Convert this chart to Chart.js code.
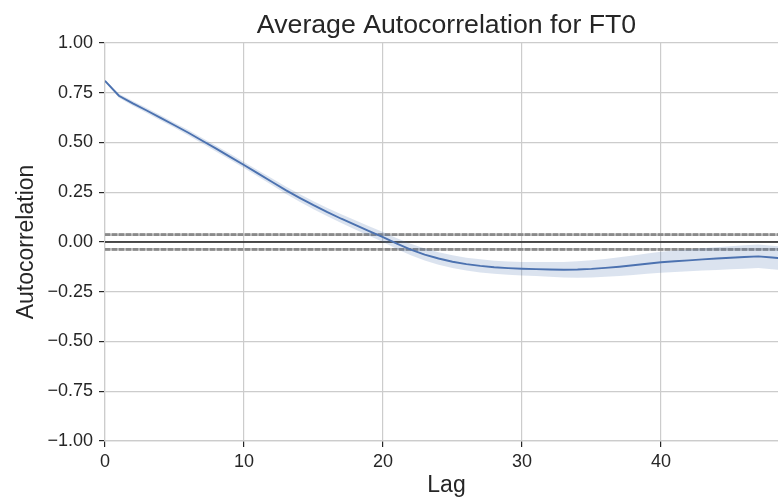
<!DOCTYPE html>
<html>
<head>
<meta charset="utf-8">
<script src="https://cdn.jsdelivr.net/npm/chart.js@4/dist/chart.umd.min.js"></script>
<style>
  body { margin: 0; background: #fff; overflow: hidden; }
  #frame { width: 778px; height: 501px; overflow: hidden; }
  /* the original axes run a little past the right edge of the picture */
  #wrap { width: 788px; height: 501px; }
</style>
</head>
<body>
<div id="frame"><div id="wrap"><canvas id="acf-chart"></canvas></div></div>
<script>
// lags 0..49, values
const lags = [0, 1, 2, 3, 4, 5, 6, 7, 8, 9, 10, 11, 12, 13, 14, 15, 16, 17, 18, 19,
    20, 21, 22, 23, 24, 25, 26, 27, 28, 29, 30, 31, 32, 33, 34, 35, 36, 37, 38, 39,
    40, 41, 42, 43, 44, 45, 46, 47, 48, 49];
const acfMean = [0.810, 0.735, 0.697, 0.661, 0.624, 0.587, 0.549, 0.509, 0.469, 0.428,
    0.387, 0.345, 0.303, 0.261, 0.222, 0.185, 0.150, 0.117, 0.086, 0.055,
    0.025, -0.008, -0.038, -0.063, -0.083, -0.099, -0.111, -0.120, -0.127, -0.131,
    -0.134, -0.136, -0.138, -0.139, -0.138, -0.135, -0.130, -0.124, -0.117, -0.109,
    -0.102, -0.097, -0.092, -0.087, -0.083, -0.079, -0.075, -0.072, -0.078, -0.084];
// shaded confidence band
const acfLower = [0.805, 0.725, 0.685, 0.649, 0.611, 0.574, 0.535, 0.495, 0.454, 0.413,
    0.372, 0.329, 0.286, 0.243, 0.203, 0.165, 0.129, 0.095, 0.063, 0.031,
    0.000, -0.035, -0.067, -0.093, -0.114, -0.131, -0.143, -0.153, -0.160, -0.164,
    -0.168, -0.171, -0.175, -0.178, -0.179, -0.178, -0.175, -0.171, -0.166, -0.160,
    -0.155, -0.151, -0.147, -0.143, -0.140, -0.137, -0.134, -0.131, -0.137, -0.143];
const acfUpper = [0.815, 0.745, 0.709, 0.673, 0.637, 0.600, 0.563, 0.523, 0.484, 0.443,
    0.402, 0.361, 0.320, 0.279, 0.241, 0.205, 0.171, 0.139, 0.109, 0.079,
    0.050, 0.019, -0.009, -0.033, -0.052, -0.067, -0.079, -0.087, -0.094, -0.098,
    -0.100, -0.101, -0.101, -0.100, -0.097, -0.092, -0.085, -0.077, -0.068, -0.058,
    -0.049, -0.043, -0.037, -0.031, -0.026, -0.021, -0.016, -0.013, -0.019, -0.025];
const confBound = 0.037;
const xTicks = [0, 10, 20, 30, 40];
const yTicks = [-1, -0.75, -0.5, -0.25, 0, 0.25, 0.5, 0.75, 1];

const textColor = "#262626";
const gridColor = "#cccccc";

function pts(ys) {
    return lags.map((x, i) => ({x: x, y: ys[i]}));
}

function hline(y) {
    return [{x: lags[0], y: y}, {x: lags[lags.length - 1], y: y}];
}

const refLine = {pointRadius: 0, fill: false, borderWidth: 2.8, order: 5};

new Chart(document.getElementById("acf-chart"), {
    type: "line",
    data: {
        datasets: [
            {data: pts(acfMean), borderColor: "#4c72b0", borderWidth: 1.9, pointRadius: 0, fill: false, order: 0},
            {data: pts(acfLower), borderWidth: 0, pointRadius: 0, fill: false, order: 1},
            {data: pts(acfUpper), borderWidth: 0, pointRadius: 0, fill: "-1",
                backgroundColor: "rgba(76,114,176,0.2)", order: 1},
            {...refLine, data: hline(confBound), borderColor: "#b8b8b8"},
            {...refLine, data: hline(-confBound), borderColor: "#b8b8b8"},
            {...refLine, data: hline(confBound), borderColor: "#8a8a8a", borderDash: [5, 2], order: 4},
            {...refLine, data: hline(-confBound), borderColor: "#8a8a8a", borderDash: [5, 2], order: 4},
            {...refLine, data: hline(0), borderColor: "#1a1a1a", borderWidth: 1.6, order: 3}
        ]
    },
    options: {
        responsive: true,
        maintainAspectRatio: false,
        animation: false,
        devicePixelRatio: 1,
        layout: {padding: 0},
        plugins: {
            legend: {display: false},
            tooltip: {enabled: false},
            title: {
                display: true,
                text: "Average Autocorrelation for FT0",
                fullSize: false,
                color: textColor,
                font: {family: "Liberation Sans", size: 26.7, weight: "normal", lineHeight: 1.2},
                padding: {top: 10, bottom: 1}
            }
        },
        scales: {
            x: {
                type: "linear",
                min: 0,
                max: 49.14,
                afterBuildTicks: (scale) => {
                    scale.ticks = xTicks.map(v => ({value: v}));
                },
                afterFit: (scale) => { scale.height = 60; },
                ticks: {
                    color: textColor,
                    font: {family: "Liberation Sans", size: 18},
                    padding: 4,
                    maxRotation: 0
                },
                grid: {color: gridColor, lineWidth: 1.2, tickColor: textColor, tickLength: 6, tickWidth: 1.2},
                border: {color: gridColor, width: 1.2},
                title: {
                    display: true,
                    text: "Lag",
                    color: textColor,
                    font: {family: "Liberation Sans", size: 23, lineHeight: 1.2},
                    padding: {top: 0, bottom: 1.2}
                }
            },
            y: {
                min: -1,
                max: 1,
                afterBuildTicks: (scale) => {
                    scale.ticks = yTicks.map(v => ({value: v}));
                },
                afterFit: (scale) => { scale.width = 105; },
                ticks: {
                    color: textColor,
                    font: {family: "Liberation Sans", size: 18},
                    padding: 6,
                    callback: (v) => (v < 0 ? "\u2212" : "") + Math.abs(v).toFixed(2)
                },
                grid: {color: gridColor, lineWidth: 1.2, tickColor: textColor, tickLength: 6, tickWidth: 1.2},
                border: {color: gridColor, width: 1.2},
                title: {
                    display: true,
                    text: "Autocorrelation",
                    color: textColor,
                    font: {family: "Liberation Sans", size: 23, lineHeight: 1.2},
                    padding: {top: 13.2, bottom: 0}
                }
            }
        }
    }
});
</script>
</body>
</html>
